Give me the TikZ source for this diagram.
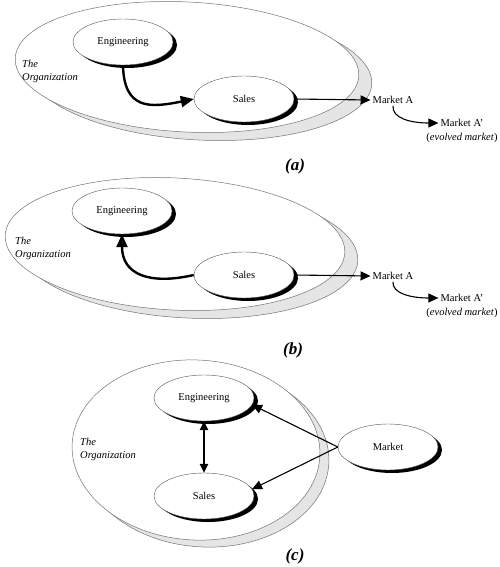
\documentclass[tikz,border=0pt]{standalone}
\usepackage{fontspec}
\setmainfont{Liberation Serif}
\usetikzlibrary{arrows.meta,shapes.geometric,shadows}
\begin{document}
\begin{tikzpicture}[x=1pt,y=1pt,
  txt/.style={font=\fontsize{10.5}{13}\selectfont, inner sep=2pt},
  orglbl/.style={font=\fontsize{10.5}{13}\selectfont\itshape, align=left, inner sep=0pt, anchor=west},
  caplbl/.style={font=\fontsize{17}{20}\selectfont\bfseries\itshape, inner sep=0pt},
  orgnode/.style={ellipse, draw=black!55, fill=white, line width=0.5pt, inner sep=0pt},
  orgshadow/.style={ellipse, draw=black!55, fill=black!10, line width=0.5pt, inner sep=0pt},
  unit/.style={ellipse, draw=black!65, fill=white, line width=0.4pt,
    minimum width=100pt, minimum height=46pt, inner sep=0pt,
    font=\fontsize{10.5}{13}\selectfont,
    drop shadow={shadow xshift=4pt, shadow yshift=-3pt, fill=black, opacity=1}},
  thickarrow/.style={line width=2.4pt, -{Triangle[length=13pt,width=11pt]}},
  thinarrow/.style={line width=1.1pt, -{Triangle[length=10pt,width=9pt]}},
  dblarrow/.style={line width=1.2pt, {Triangle[length=9pt,width=8.5pt]}-{Triangle[length=9pt,width=8.5pt]}}
]
\useasboundingbox (0,0) rectangle (500,-567);

% ---------- (a) ----------
\node[orgshadow, minimum width=344pt, minimum height=130pt, rotate=-3] (orgAs) at (200,-75) {};
\node[orgnode, minimum width=344pt, minimum height=130pt, rotate=-3] (orgA) at (187,-67) {};
\node[orglbl] (lblA) at (22,-71.5) {The\\Organization};
\node[unit] (engA) at (123,-42) {Engineering};
\node[unit] (salesA) at (244,-99) {Sales};
\node[txt] (mA) at (393,-100) {Market A};
\node[txt] (mA2) at (462,-123) {Market A'};
\node[txt] (evA) at (462,-138) {(\textit{evolved market})};
\node[caplbl] (capA) at (295,-166) {(a)};
\draw[thickarrow] (engA.south) .. controls (124,-110) and (150,-108) .. (salesA.west);
\draw[thinarrow] (salesA.east) -- (mA.west);
\draw[thinarrow] (mA.south) .. controls (392,-118) and (410,-123) .. (mA2.west);

% ---------- (b) ----------
\node[orgshadow, minimum width=340pt, minimum height=132pt, rotate=-3] (orgBs) at (188,-252) {};
\node[orgnode, minimum width=340pt, minimum height=132pt, rotate=-3] (orgB) at (175,-244) {};
\node[orglbl] (lblB) at (15,-248) {The\\Organization};
\node[unit] (engB) at (122,-211) {Engineering};
\node[unit] (salesB) at (244,-275) {Sales};
\node[txt] (mB) at (393,-276) {Market A};
\node[txt] (mB2) at (462,-298) {Market A'};
\node[txt] (evB) at (462,-313) {(\textit{evolved market})};
\node[caplbl] (capB) at (293,-350) {(b)};
\draw[thickarrow] (salesB.west) .. controls (150,-285) and (122,-275) .. (engB.south);
\draw[thinarrow] (salesB.east) -- (mB.west);
\draw[thinarrow] (mB.south) .. controls (392,-293) and (410,-298) .. (mB2.west);

% ---------- (c) ----------
\node[orgshadow, minimum width=248pt, minimum height=180pt, rotate=-3] (orgCs) at (205,-457) {};
\node[orgnode, minimum width=248pt, minimum height=180pt, rotate=-3] (orgC) at (196,-450) {};
\node[orglbl] (lblC) at (80,-449) {The\\Organization};
\node[unit] (engC) at (204,-398) {Engineering};
\node[unit] (salesC) at (204,-496) {Sales};
\node[unit] (mkt) at (388,-447) {Market};
\node[caplbl] (capC) at (295,-556) {(c)};
\draw[dblarrow] (engC.south) -- (salesC.north);
\draw[thinarrow] (mkt.west) -- (engC.-8);
\draw[thinarrow] (mkt.west) -- (salesC.8);
\end{tikzpicture}
\end{document}
